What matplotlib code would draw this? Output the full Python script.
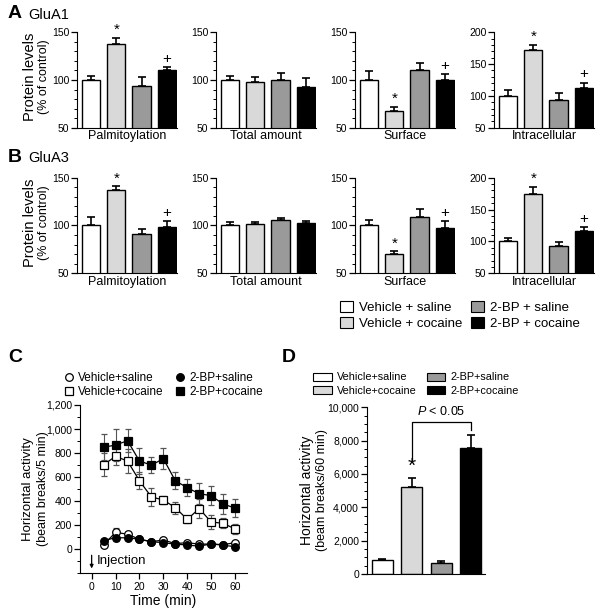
import numpy as np
import matplotlib
matplotlib.use("Agg")
import matplotlib.pyplot as plt
from matplotlib.ticker import MultipleLocator, FuncFormatter
from matplotlib.patches import Patch
from matplotlib.lines import Line2D

plt.rcParams['font.family'] = ['Liberation Sans', 'DejaVu Sans']
plt.rcParams['mathtext.fontset'] = 'custom'
plt.rcParams['mathtext.it'] = 'Liberation Sans:italic'
plt.rcParams['mathtext.rm'] = 'Liberation Sans'

# ---- data ----
groups_ab = ["Vehicle + saline", "Vehicle + cocaine", "2-BP + saline", "2-BP + cocaine"]
groups_cd = ["Vehicle+saline", "Vehicle+cocaine", "2-BP+saline", "2-BP+cocaine"]
bar_colors = ["white", "#d9d9d9", "#9a9a9a", "black"]

measures = ["Palmitoylation", "Total amount", "Surface", "Intracellular"]

glua1_vals = [[100, 138, 94, 111], [100, 98, 100, 93], [100, 68, 110, 100], [100, 172, 93, 113]]
glua1_errs = [[4, 6, 9, 3], [4, 5, 7, 9], [9, 4, 8, 6], [10, 8, 12, 8]]
glua3_vals = [[100, 137, 91, 98], [100, 102, 106, 103], [100, 70, 109, 97], [100, 175, 93, 117]]
glua3_errs = [[9, 4, 5, 7], [4, 2, 2, 1.5], [6, 3, 8, 8], [5, 10, 6, 5]]
marks = [["", "*", "", "+"], ["", "", "", ""], ["", "*", "", "+"], ["", "*", "", "+"]]

time_min = [5, 10, 15, 20, 25, 30, 35, 40, 45, 50, 55, 60]
veh_sal = [36, 141, 125, 83, 63, 77, 47, 55, 42, 44, 38, 55]
veh_sal_err = [10, 35, 15, 10, 10, 10, 8, 8, 8, 8, 8, 10]
veh_coc = [703, 773, 734, 570, 435, 410, 346, 249, 338, 227, 216, 169]
veh_coc_err = [95, 70, 100, 70, 73, 30, 50, 30, 80, 55, 40, 40]
bp_sal = [72, 96, 95, 83, 63, 55, 42, 36, 25, 45, 33, 22]
bp_sal_err = [15, 30, 12, 10, 10, 10, 8, 8, 8, 8, 8, 8]
bp_coc = [848, 867, 903, 734, 700, 753, 570, 512, 462, 446, 376, 343]
bp_coc_err = [108, 130, 94, 106, 65, 87, 70, 72, 86, 80, 81, 73]

total_act = [840, 5200, 640, 7560]
total_act_err = [80, 540, 120, 760]

W, H = 603, 610
def fx(px):
    return px / W
def fy(py):
    return 1 - py / H

fig = plt.figure(figsize=(W / 100, H / 100), dpi=100)

def style_axis(ax):
    ax.spines['top'].set_visible(False)
    ax.spines['right'].set_visible(False)
    ax.tick_params(axis='y', which='major', length=4, width=0.9, labelsize=7.5, pad=1.5)
    ax.tick_params(axis='y', which='minor', length=2, width=0.7)

# ---- panels A and B ----
col_left = [77, 216, 355, 494]
rows = [(32.3, 127.7, glua1_vals, glua1_errs), (177.7, 273.3, glua3_vals, glua3_errs)]
for top, bot, vals_all, errs_all in rows:
    for j in range(4):
        ax = fig.add_axes([fx(col_left[j]), fy(bot), fx(100), (bot - top) / H])
        vals = vals_all[j]
        errs = errs_all[j]
        x = np.arange(4)
        ax.bar(x, vals, width=0.72, color=bar_colors, edgecolor='black', linewidth=1.0,
               yerr=[np.zeros(4), errs], capsize=3,
               error_kw=dict(elinewidth=1.2, capthick=1.2, ecolor='black'))
        ax.set_xlim(-0.55, 3.4)
        if j == 3:
            ax.set_ylim(50, 200)
            ax.set_yticks([50, 100, 150, 200])
            step = 2.0
        else:
            ax.set_ylim(50, 150)
            ax.set_yticks([50, 100, 150])
            step = 1.0
        ax.yaxis.set_minor_locator(MultipleLocator(10))
        ax.set_xticks([])
        style_axis(ax)
        ax.set_xlabel(measures[j], fontsize=9, labelpad=2)
        for i in range(4):
            if marks[j][i]:
                ax.text(i, vals[i] + errs[i] + step, marks[j][i], ha='center', va='bottom', fontsize=11)
    ymid = fy((top + bot) / 2 - 3)
    fig.text(fx(30.5), ymid, "Protein levels", rotation=90, ha='center', va='center', fontsize=10.5)
    fig.text(fx(44), ymid, "(% of control)", rotation=90, ha='center', va='center', fontsize=9)

fig.text(fx(8), fy(14), "A", fontsize=14, fontweight='bold', va='center')
fig.text(fx(28), fy(15), "GluA1", fontsize=10.5, va='center')
fig.text(fx(8), fy(157), "B", fontsize=14, fontweight='bold', va='center')
fig.text(fx(28), fy(158), "GluA3", fontsize=10.5, va='center')

handles_ab = [Patch(facecolor=c, edgecolor='black', linewidth=0.8) for c in bar_colors]
fig.legend(handles_ab, groups_ab, ncol=2, loc='upper left', bbox_to_anchor=(fx(333), fy(294)),
           frameon=False, fontsize=9.5, handlelength=1.0, handleheight=1.0,
           handletextpad=0.5, columnspacing=0.6, labelspacing=0.2, borderpad=0)

# ---- panel C ----
axc = fig.add_axes([fx(79.7), fy(573.3), fx(167.3), (573.3 - 405) / H])
series = [
    (veh_sal, veh_sal_err, 'o', 'white', groups_cd[0]),
    (veh_coc, veh_coc_err, 's', 'white', groups_cd[1]),
    (bp_sal, bp_sal_err, 'o', 'black', groups_cd[2]),
    (bp_coc, bp_coc_err, 's', 'black', groups_cd[3]),
]
for vals, errs, mk, fc, lab in series:
    axc.errorbar(time_min, vals, yerr=errs, fmt='-', color='black', lw=0.9, marker=mk,
                 markersize=5.5, markerfacecolor=fc, markeredgecolor='black', markeredgewidth=0.9,
                 ecolor='#555555', elinewidth=0.8, capsize=2.5, capthick=0.8)
axc.set_xlim(-5, 65)
axc.set_ylim(-200, 1200)
axc.set_yticks(range(0, 1201, 200))
axc.yaxis.set_minor_locator(MultipleLocator(100))
axc.set_xticks(range(0, 61, 10))
axc.yaxis.set_major_formatter(FuncFormatter(lambda v, p: f"{int(v):,}"))
style_axis(axc)
axc.tick_params(axis='x', length=4, width=0.9, labelsize=7.5, pad=2)
axc.set_xlabel("Time (min)", fontsize=10, labelpad=2)
axc.annotate('', xy=(0, -160), xytext=(0, -50),
             arrowprops=dict(arrowstyle='-|>', color='black', lw=0.9, mutation_scale=5,
                             shrinkA=0, shrinkB=0))
axc.text(2, -100, "Injection", fontsize=9.5, va='center', ha='left')
fig.text(fx(28), fy(489), "Horizontal activity", rotation=90, ha='center', va='center', fontsize=9.5)
fig.text(fx(43), fy(489), "(beam breaks/5 min)", rotation=90, ha='center', va='center', fontsize=9)

handles_c = [Line2D([], [], ls='none', marker=mk, markersize=5.5, markerfacecolor=fc,
                    markeredgecolor='black', markeredgewidth=0.9) for _, _, mk, fc, _ in series]
labels_c = [s[4] for s in series]
axc.legend(handles_c, labels_c, ncol=2,
           loc='upper left', bbox_to_anchor=(fx(58), fy(366)), bbox_transform=fig.transFigure,
           frameon=False, fontsize=8.5, handlelength=0.8, handletextpad=0.4,
           columnspacing=1.0, labelspacing=0.15, borderpad=0)

fig.text(fx(8), fy(358), "C", fontsize=14, fontweight='bold', va='center')
fig.text(fx(282), fy(358), "D", fontsize=14, fontweight='bold', va='center')

# ---- panel D ----
axd = fig.add_axes([fx(366.7), fy(574), fx(118), (574 - 407.3) / H])
xd = np.arange(4)
axd.bar(xd, total_act, width=0.72, color=bar_colors, edgecolor='black', linewidth=1.0,
        yerr=[np.zeros(4), total_act_err], capsize=3,
        error_kw=dict(elinewidth=1.2, capthick=1.2, ecolor='black'))
axd.set_xlim(-0.53, 3.47)
axd.set_ylim(0, 10000)
axd.set_yticks(range(0, 10001, 2000))
axd.yaxis.set_minor_locator(MultipleLocator(500))
axd.yaxis.set_major_formatter(FuncFormatter(lambda v, p: f"{int(v):,}"))
axd.set_xticks([])
style_axis(axd)
axd.text(1, total_act[1] + total_act_err[1] + 150, "*", ha='center', va='bottom', fontsize=15)
axd.plot([1, 1, 3, 3], [6700, 9100, 9100, 8650], color='black', lw=0.9)
axd.text(2, 9350, r"$\it{P}$ < 0.05", ha='center', va='bottom', fontsize=9)
fig.text(fx(307), fy(490), "Horizontal activity", rotation=90, ha='center', va='center', fontsize=10)
fig.text(fx(322), fy(490), "(beam breaks/60 min)", rotation=90, ha='center', va='center', fontsize=9)

handles_d = [Patch(facecolor=c, edgecolor='black', linewidth=0.8) for c in bar_colors]
axd.legend(handles_d, groups_cd, ncol=2, loc='upper left', bbox_to_anchor=(fx(308), fy(367)),
           bbox_transform=fig.transFigure, frameon=False, fontsize=7.8, handlelength=1.7,
           handleheight=0.8, handletextpad=0.5, columnspacing=0.9, labelspacing=0.3, borderpad=0)

fig.savefig("out.png", dpi=100)
